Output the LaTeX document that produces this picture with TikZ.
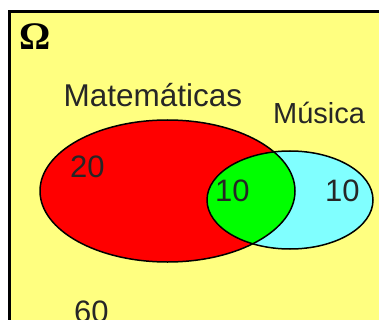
\documentclass[tikz,border=0pt]{standalone}
\usepackage{fontspec}
\setmainfont{Liberation Sans}
\newfontfamily\omegafont{Liberation Serif}
\definecolor{bgyellow}{RGB}{255,255,128}
\definecolor{setred}{RGB}{255,0,0}
\definecolor{setgreen}{RGB}{0,255,0}
\definecolor{setcyan}{RGB}{128,255,255}
\tikzset{
  lbl/.style={anchor=base west, inner sep=0pt, font=\fontsize{31}{31}\selectfont, text=black!85},
  setline/.style={draw=black, line width=1.5pt}
}
\begin{document}
\begin{tikzpicture}[x=1pt,y=-1pt]
\useasboundingbox (0,0) rectangle (379,320);
\fill[white] (0,0) rectangle (379,320);
\begin{scope}
\clip (0,0) rectangle (379,320);
\draw[fill=bgyellow, line width=3pt] (9,12) rectangle (400,340);
\end{scope}
% sets
\fill[setred] (167.5,191) ellipse [x radius=127.5, y radius=71];
\fill[setcyan] (290,200) ellipse [x radius=83, y radius=49];
\begin{scope}
\clip (167.5,191) ellipse [x radius=127.5, y radius=71];
\fill[setgreen] (290,200) ellipse [x radius=83, y radius=49];
\end{scope}
\draw[setline] (167.5,191) ellipse [x radius=127.5, y radius=71];
\draw[setline] (290,200) ellipse [x radius=83, y radius=49];
% labels
\node[anchor=base west, inner sep=0pt, font=\omegafont\bfseries\fontsize{39}{39}\selectfont] (omega) at (19.5,50) {Ω};
\node[lbl, font=\fontsize{31.5}{31.5}\selectfont] (mat) at (63.5,107) {Matemáticas};
\node[lbl, font=\fontsize{29}{29}\selectfont] (mus) at (273,124) {Música};
\node[lbl] (n20) at (70,178) {20};
\node[lbl] (n10a) at (215,201) {10};
\node[lbl] (n10b) at (325,201) {10};
\node[lbl] (n60) at (74,322) {60};
\end{tikzpicture}
\end{document}
